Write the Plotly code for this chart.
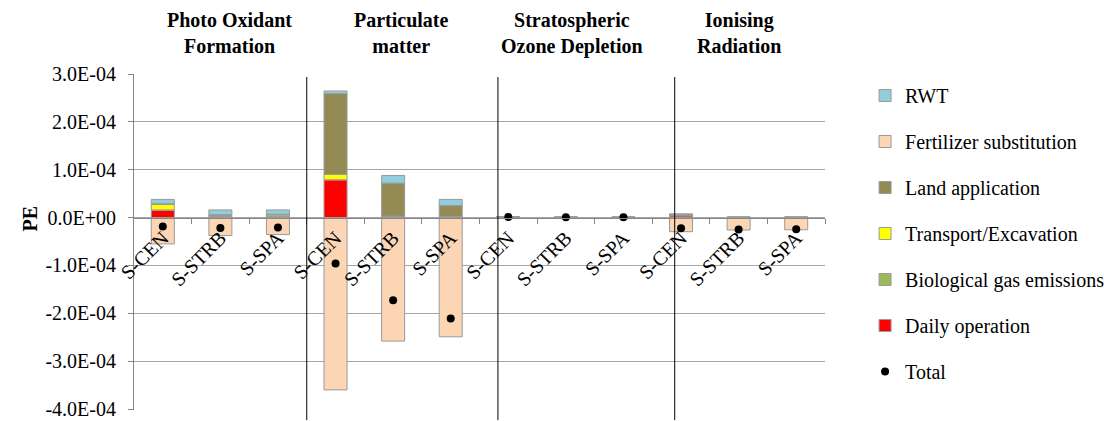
import plotly.graph_objects as go

# ---------------- data ----------------
categories = ["S-CEN", "S-STRB", "S-SPA"] * 4
group_titles = ["Photo Oxidant<br>Formation", "Particulate<br>matter",
                "Stratospheric<br>Ozone Depletion", "Ionising<br>Radiation"]

daily_operation = [1.5e-5, 0.3e-5, 0.3e-5, 7.9e-5, 0.3e-5, 0.2e-5,
                   0.0, 0.0, 0.0, 0.4e-5, 0.05e-5, 0.05e-5]
biological_gas = [0.1e-5, 0.0, 0.0, 0.0, 0.0, 0.0,
                  0.05e-5, 0.03e-5, 0.03e-5, 0.0, 0.0, 0.0]
transport_excavation = [1.2e-5, 0.1e-5, 0.25e-5, 1.1e-5, 0.0, 0.0,
                        0.0, 0.0, 0.0, 0.0, 0.0, 0.0]
land_application = [0.1e-5, 0.2e-5, 0.15e-5, 16.9e-5, 6.9e-5, 2.3e-5,
                    0.15e-5, 0.1e-5, 0.1e-5, 0.3e-5, 0.05e-5, 0.05e-5]
fertilizer_substitution = [-5.5e-5, -3.75e-5, -3.55e-5, -36.0e-5, -25.8e-5, -24.9e-5,
                           -0.05e-5, -0.05e-5, -0.05e-5, -2.95e-5, -2.6e-5, -2.55e-5]
rwt = [0.9e-5, 1.0e-5, 0.9e-5, 0.55e-5, 1.6e-5, 1.3e-5,
       0.02e-5, 0.02e-5, 0.02e-5, 0.05e-5, 0.02e-5, 0.02e-5]
total = [-1.85e-5, -2.2e-5, -2.05e-5, -9.6e-5, -17.25e-5, -21.1e-5,
         0.1e-5, 0.05e-5, 0.05e-5, -2.25e-5, -2.5e-5, -2.45e-5]

y_tickvals = [3e-4, 2e-4, 1e-4, 0.0, -1e-4, -2e-4, -3e-4, -4e-4]
y_ticktext = ["3.0E-04", "2.0E-04", "1.0E-04", "0.0E+00",
              "-1.0E-04", "-2.0E-04", "-3.0E-04", "-4.0E-04"]

# ---------------- figure ----------------
x = list(range(len(categories)))
FONT = "Liberation Serif, Times New Roman, serif"
OUTLINE = "#9A9A9A"

series = [
    ("Daily operation", daily_operation, "#FF0000", 6),
    ("Biological gas emissions", biological_gas, "#9BBB59", 5),
    ("Transport/Excavation", transport_excavation, "#FFFF00", 4),
    ("Land application", land_application, "#948A54", 3),
    ("Fertilizer substitution", fertilizer_substitution, "#FCD5B5", 2),
    ("RWT", rwt, "#92CDDC", 1),
]

fig = go.Figure()
for name, vals, color, rank in series:
    fig.add_trace(go.Bar(
        x=x, y=vals, name=name, width=0.4,
        marker=dict(color=color, line=dict(color=OUTLINE, width=1)),
        legendrank=rank, legendgroup=name,
    ))

fig.add_trace(go.Scatter(
    x=x, y=total, name="Total", mode="markers",
    marker=dict(color="black", size=8),
    legendrank=7, legendgroup="Total",
))

# group separators
for sx in [2.5, 5.82, 8.89]:
    fig.add_shape(type="line", xref="x", yref="paper", x0=sx, x1=sx,
                  y0=-0.03, y1=0.991, line=dict(color="black", width=1))

# group titles
for tx, title in zip([1.15, 4.15, 7.1, 10.0], group_titles):
    fig.add_annotation(x=tx, xref="x", y=1.0, yref="paper", yshift=41,
                       text="<b>" + title + "</b>", showarrow=False,
                       font=dict(family=FONT, size=20, color="black"),
                       yanchor="middle", align="center")

# y-axis title
fig.add_annotation(x=-0.168, xref="paper", y=0.57, yref="paper",
                   text="<b>PE</b>", textangle=-90, showarrow=False,
                   font=dict(family=FONT, size=20, color="black"))

ymin, ymax = -4.02e-4, 3.0e-4
fig.update_layout(
    width=1104, height=421,
    margin=dict(l=134, r=279, t=74, b=11, autoexpand=False),
    barmode="relative",
    plot_bgcolor="white", paper_bgcolor="white",
    font=dict(family=FONT, size=20, color="black"),
    showlegend=True,
    legend=dict(x=1.058, xanchor="left", y=0.994, yanchor="top",
                font=dict(family=FONT, size=20, color="black"),
                tracegroupgap=17, bgcolor="rgba(0,0,0,0)"),
    xaxis=dict(
        range=[-0.5, len(categories) - 0.5],
        tickmode="array", tickvals=x, ticktext=categories,
        tickangle=-45, ticks="", showgrid=False, zeroline=False,
        showline=True, linecolor="#868686", linewidth=1,
        anchor="free", position=(0 - ymin) / (ymax - ymin),
        tickfont=dict(family=FONT, size=20, color="black"),
        automargin=False,
        minor=dict(tickmode="array",
                   tickvals=[i - 0.5 for i in range(1, len(categories) + 1)],
                   ticks="outside", ticklen=5, tickcolor="#868686", showgrid=False),
    ),
    yaxis=dict(
        range=[ymin, ymax],
        tickmode="array", tickvals=y_tickvals, ticktext=y_ticktext,
        showgrid=True, gridcolor="#A6A6A6", gridwidth=1,
        zeroline=False, showline=True, linecolor="#868686", linewidth=1,
        ticks="outside", ticklen=5, tickcolor="#868686",
        ticklabelstandoff=8, automargin=False, ticklabeloverflow="allow",
        tickfont=dict(family=FONT, size=20, color="black"),
    ),
)

fig.write_html("out.html")
